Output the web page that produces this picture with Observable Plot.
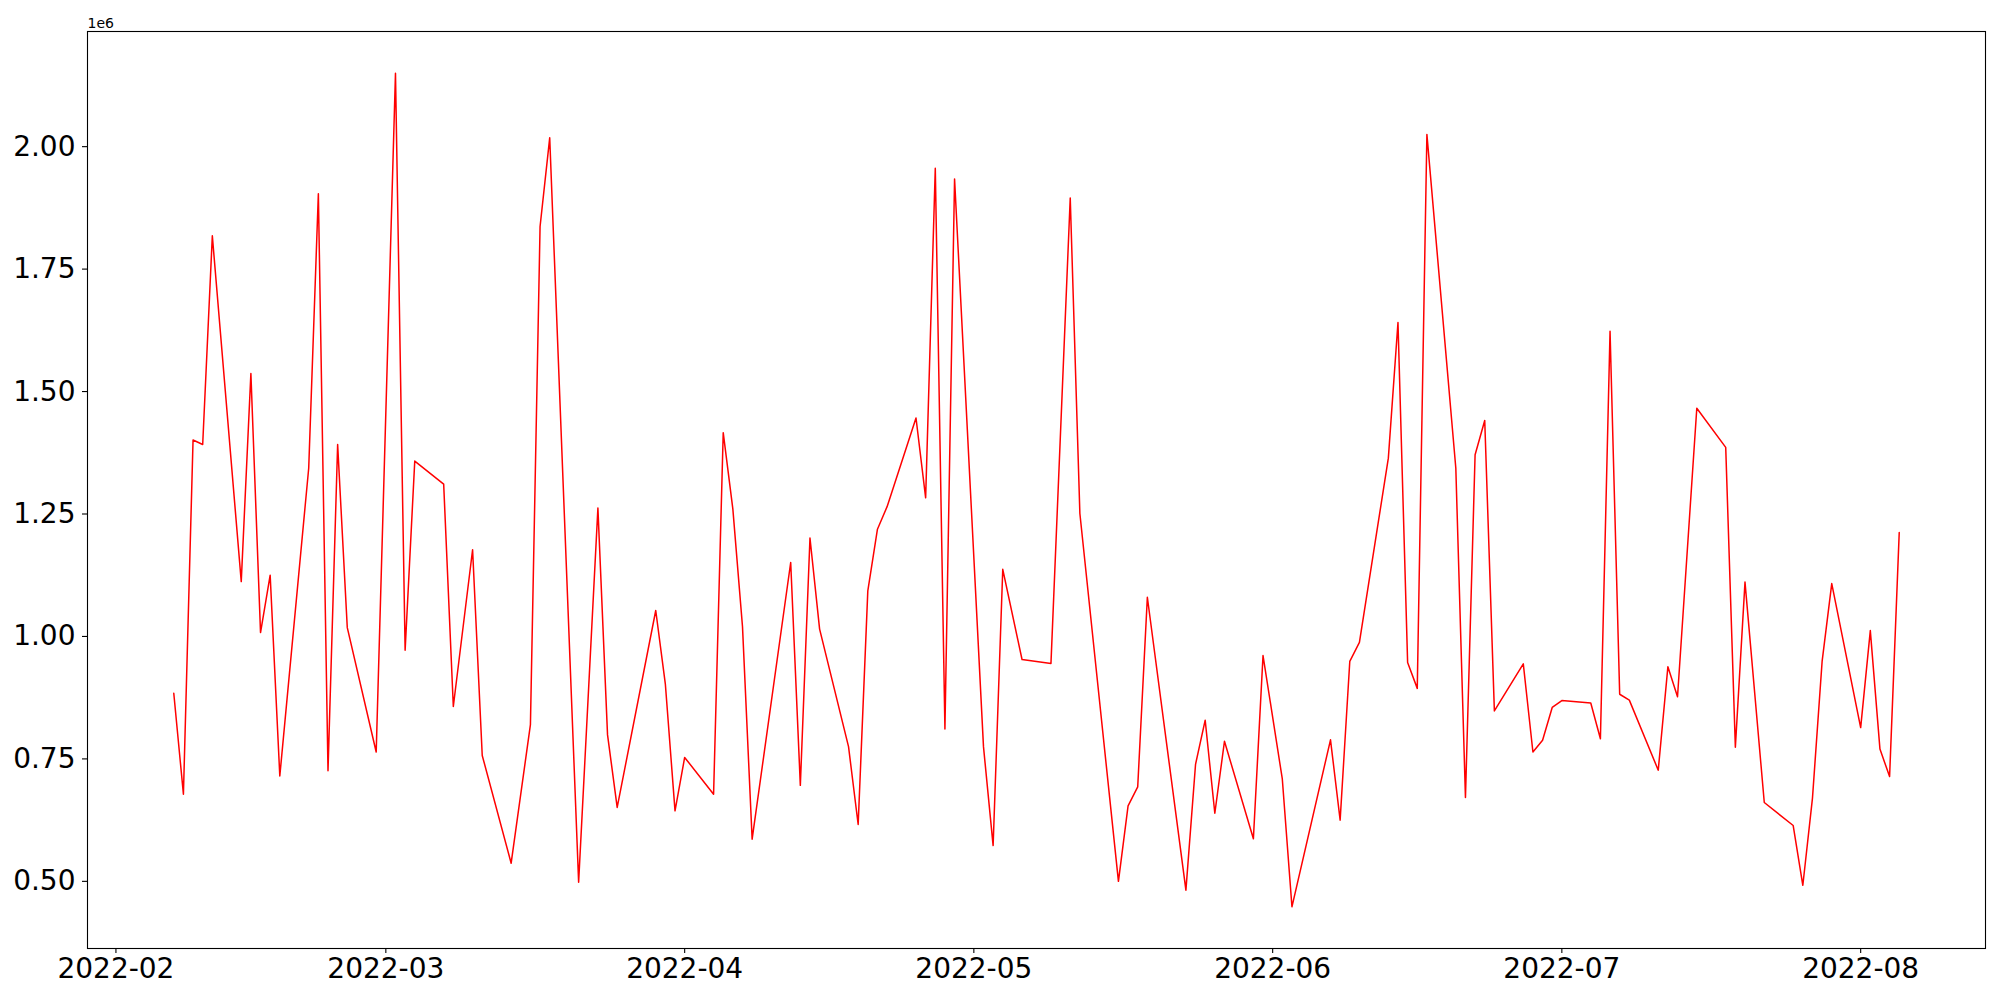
<!DOCTYPE html>
<html>
<head>
<meta charset="utf-8">
<script src="https://cdn.jsdelivr.net/npm/d3@7"></script>
<script src="https://cdn.jsdelivr.net/npm/@observablehq/plot@0.6"></script>
<style>
  html, body { margin: 0; padding: 0; background: white; }
  #chart { width: 2000px; height: 1000px; }
</style>
</head>
<body>
<div id="chart"></div>
<script>
// Dates of the series (daily, with gaps)
const dates = [
  "2022-02-07","2022-02-08","2022-02-09","2022-02-10","2022-02-11",
  "2022-02-14","2022-02-15","2022-02-16","2022-02-17","2022-02-18",
  "2022-02-21","2022-02-22","2022-02-23","2022-02-24","2022-02-25",
  "2022-02-28","2022-03-02","2022-03-03","2022-03-04",
  "2022-03-07","2022-03-08","2022-03-10","2022-03-11",
  "2022-03-14","2022-03-16","2022-03-17","2022-03-18",
  "2022-03-21","2022-03-23","2022-03-24","2022-03-25",
  "2022-03-29","2022-03-30","2022-03-31","2022-04-01",
  "2022-04-04","2022-04-05","2022-04-06","2022-04-07","2022-04-08",
  "2022-04-12","2022-04-13","2022-04-14","2022-04-15",
  "2022-04-18","2022-04-19","2022-04-20","2022-04-21","2022-04-22",
  "2022-04-25","2022-04-26","2022-04-27","2022-04-28","2022-04-29",
  "2022-05-02","2022-05-03","2022-05-04","2022-05-06",
  "2022-05-09","2022-05-11","2022-05-12",
  "2022-05-16","2022-05-17","2022-05-18","2022-05-19",
  "2022-05-23","2022-05-24","2022-05-25","2022-05-26","2022-05-27",
  "2022-05-30","2022-05-31","2022-06-02","2022-06-03",
  "2022-06-07","2022-06-08","2022-06-09","2022-06-10",
  "2022-06-13","2022-06-14","2022-06-15","2022-06-16","2022-06-17",
  "2022-06-20","2022-06-21","2022-06-22","2022-06-23","2022-06-24",
  "2022-06-27","2022-06-28","2022-06-29","2022-06-30","2022-07-01",
  "2022-07-04","2022-07-05","2022-07-06","2022-07-07","2022-07-08",
  "2022-07-11","2022-07-12","2022-07-13","2022-07-15",
  "2022-07-18","2022-07-19","2022-07-20","2022-07-22",
  "2022-07-25","2022-07-26","2022-07-27","2022-07-28","2022-07-29",
  "2022-08-01","2022-08-02","2022-08-03","2022-08-04","2022-08-05"
];

// Values in units of 1e6
const values = [
  0.884,0.678,1.401,1.392,1.818,
  1.112,1.537,1.008,1.125,0.715,
  1.344,1.904,0.726,1.392,1.018,
  0.764,2.150,0.972,1.358,
  1.311,0.857,1.177,0.757,
  0.537,0.820,1.837,2.018,
  0.498,1.262,0.799,0.651,
  1.053,0.902,0.644,0.753,
  0.678,1.416,1.260,1.020,0.586,
  1.151,0.696,1.201,1.015,
  0.775,0.616,1.093,1.219,1.265,
  1.446,1.283,1.956,0.811,1.934,
  0.775,0.573,1.137,0.953,
  0.945,1.895,1.251,
  0.500,0.654,0.693,1.080,
  0.482,0.739,0.829,0.639,0.786,
  0.587,0.961,0.709,0.448,
  0.789,0.625,0.949,0.988,
  1.364,1.641,0.947,0.894,2.025,
  1.344,0.671,1.371,1.441,0.848,
  0.944,0.764,0.788,0.855,0.869,
  0.864,0.791,1.623,0.882,0.870,
  0.727,0.938,0.877,1.466,
  1.386,0.774,1.111,0.661,
  0.614,0.492,0.670,0.949,1.108,
  0.814,1.012,0.770,0.714,1.212
];

const xTickLabels = ["2022-02","2022-03","2022-04","2022-05","2022-06","2022-07","2022-08"];
const yTicks = [0.50, 0.75, 1.00, 1.25, 1.50, 1.75, 2.00];
const offsetLabel = "1e6";

const data = dates.map((d, i) => ({date: new Date(d + "T00:00:00Z"), value: values[i]}));

// matplotlib-style 5% margins
function padded(ext) {
  const [a, b] = ext.map(Number);
  const p = (b - a) * 0.05;
  return [a - p, b + p];
}
const xd = padded(d3.extent(data, d => d.date));
const xDomain = [new Date(xd[0]), new Date(xd[1])];
const yDomain = padded(d3.extent(data, d => d.value));

const xTicks = xTickLabels.map(s => new Date(s + "-01T00:00:00Z"));

const chart = Plot.plot({
  width: 2000,
  height: 1000,
  marginLeft: 87,
  marginRight: 15,
  marginTop: 31,
  marginBottom: 52,
  style: {fontFamily: "DejaVu Sans", background: "white", color: "black", overflow: "visible"},
  x: {type: "utc", domain: xDomain},
  y: {domain: yDomain},
  marks: [
    Plot.line(data, {x: "date", y: "value", stroke: "#ff0000", strokeWidth: 1.5}),
    Plot.frame({stroke: "black", strokeWidth: 1.1}),
    Plot.axisX({ticks: xTicks, tickFormat: d3.utcFormat("%Y-%m"), tickSize: 5, tickPadding: 5, fontSize: 28, label: null, strokeWidth: 1.1}),
    Plot.axisY({ticks: yTicks, tickFormat: d3.format(".2f"), tickSize: 5, tickPadding: 7, fontSize: 28, label: null, strokeWidth: 1.1}),
    Plot.text([offsetLabel], {frameAnchor: "top-left", text: d => d, textAnchor: "start", lineAnchor: "bottom", dy: -4, fontSize: 14, fill: "black"})
  ]
});
document.getElementById("chart").appendChild(chart);
</script>
</body>
</html>
